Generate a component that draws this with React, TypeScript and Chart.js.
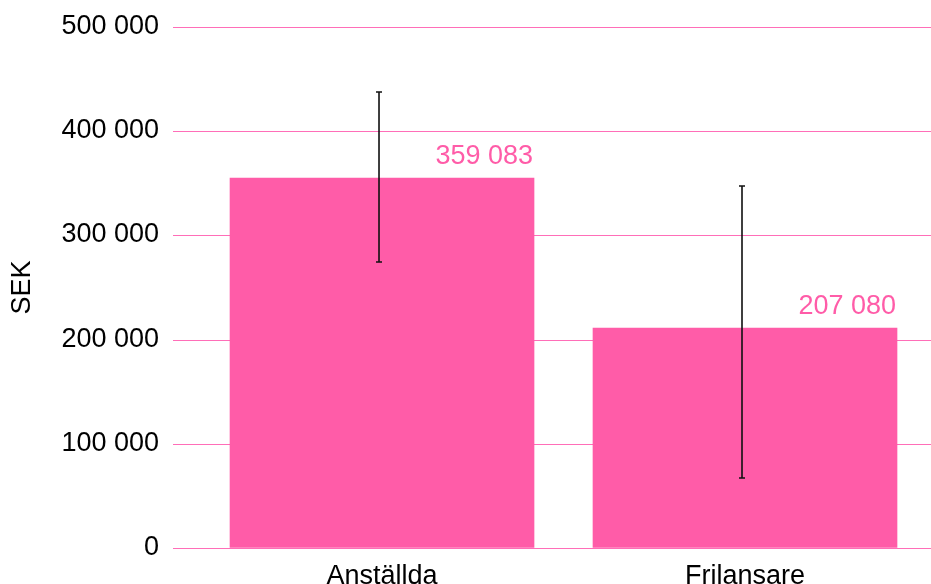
import React, { useEffect, useRef } from 'react';
import { Chart, registerables } from 'chart.js';

Chart.register(...registerables);

const categories = ['Anställda', 'Frilansare'];
const values = [355000, 211000];
const valueLabels = ['359 083', '207 080'];
const errorLow = [274300, 67600];
const errorHigh = [437300, 347600];
const yTitle = 'SEK';
const yMin = 0;
const yMax = 500000;
const yStep = 100000;

const FONT = '"Liberation Sans", Arial, Helvetica, sans-serif';
const FONT_SIZE = 27;
const BAR_COLOR = '#ff5ca8';
const GRID_COLOR = '#ff6eb8';
const LABEL_COLOR = '#ff5ca8';

const fmt = (v: number) => String(v).replace(/\B(?=(\d{3})+(?!\d))/g, ' ');

const errorBarPlugin = {
  id: 'errorBars',
  afterDatasetsDraw(chart: any) {
    const meta = chart.getDatasetMeta(0);
    const y = chart.scales.y;
    const ctx = chart.ctx;
    ctx.save();
    ctx.strokeStyle = '#111';
    ctx.lineWidth = 1.6;
    meta.data.forEach((bar: any, i: number) => {
      const x = bar.x - 3;
      const yHi = y.getPixelForValue(errorHigh[i]);
      const yLo = y.getPixelForValue(errorLow[i]);
      ctx.beginPath();
      ctx.moveTo(x, yHi);
      ctx.lineTo(x, yLo);
      ctx.moveTo(x - 3, yHi);
      ctx.lineTo(x + 3, yHi);
      ctx.moveTo(x - 3, yLo);
      ctx.lineTo(x + 3, yLo);
      ctx.stroke();
    });
    ctx.restore();
  },
};

const valueLabelPlugin = {
  id: 'valueLabels',
  afterDatasetsDraw(chart: any) {
    const meta = chart.getDatasetMeta(0);
    const ctx = chart.ctx;
    ctx.save();
    ctx.fillStyle = LABEL_COLOR;
    ctx.font = `${FONT_SIZE}px ${FONT}`;
    ctx.textAlign = 'right';
    ctx.textBaseline = 'alphabetic';
    meta.data.forEach((bar: any, i: number) => {
      const right = bar.x + bar.width / 2;
      ctx.fillText(valueLabels[i], right - 1, bar.y - 14);
    });
    ctx.restore();
  },
};

export default function App() {
  const ref = useRef<HTMLCanvasElement | null>(null);

  useEffect(() => {
    if (!ref.current) return;
    const chart = new Chart(ref.current, {
      type: 'bar',
      data: {
        datasets: [
          {
            data: values.map((v, i) => ({ x: i, y: v })),
            backgroundColor: BAR_COLOR,
            borderWidth: 0,
            barThickness: 304,
          },
        ],
      },
      options: {
        responsive: false,
        animation: false,
        layout: { padding: { top: 27, left: 0, right: 0, bottom: 0 } },
        plugins: {
          legend: { display: false },
          tooltip: { enabled: false },
        },
        scales: {
          x: {
            type: 'linear',
            offset: false,
            bounds: 'data',
            min: -0.5758,
            max: 1.5124,
            grid: { display: false, offset: false },
            border: { display: false },
            afterBuildTicks: (s: any) => {
              s.ticks = categories.map((_, i) => ({ value: i }));
            },
            afterFit: (s: any) => {
              s.height = 36;
              s.paddingLeft = 0;
              s.paddingRight = 0;
            },
            ticks: {
              autoSkip: false,
              maxRotation: 0,
              padding: 4,
              color: '#000',
              font: { family: FONT, size: FONT_SIZE },
              callback: (v: any) => categories[Number(v)] ?? '',
            },
          },
          y: {
            min: yMin,
            max: yMax,
            alignToPixels: true,
            grid: { color: GRID_COLOR, lineWidth: 1, drawTicks: false },
            border: { display: false },
            afterFit: (s: any) => {
              s.width = 173;
              s.paddingTop = 0;
              s.paddingBottom = 0;
            },
            ticks: {
              stepSize: yStep,
              padding: 14,
              color: '#000',
              font: { family: FONT, size: FONT_SIZE },
              callback: (v: any) => fmt(Number(v)),
            },
            title: {
              display: true,
              text: yTitle,
              color: '#000',
              font: { family: FONT, size: FONT_SIZE },
              padding: { top: 6, bottom: 0 },
            },
          },
        },
      },
      plugins: [errorBarPlugin, valueLabelPlugin],
    });
    return () => chart.destroy();
  }, []);

  return (
    <div style={{ position: 'fixed', left: 0, top: 0, width: 931, height: 584, background: '#fff' }}>
      <canvas ref={ref} width={931} height={584} style={{ width: 931, height: 584, display: 'block' }} />
    </div>
  );
}
